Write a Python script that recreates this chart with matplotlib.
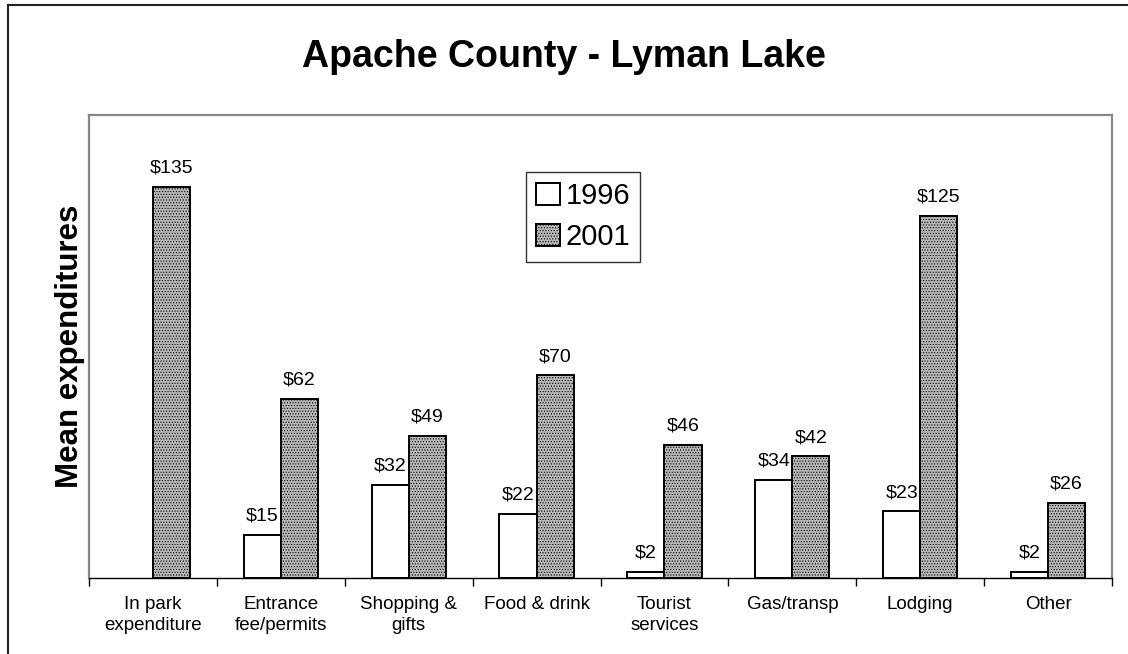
import numpy as np
import matplotlib
matplotlib.use("Agg")
import matplotlib.pyplot as plt
from matplotlib.lines import Line2D

plt.rcParams['font.family'] = ['Liberation Sans', 'DejaVu Sans']
plt.rcParams['hatch.color'] = '#959595'
plt.rcParams['hatch.linewidth'] = 0.5

# data
categories = ['In park\nexpenditure', 'Entrance\nfee/permits', 'Shopping &\ngifts',
              'Food & drink', 'Tourist\nservices', 'Gas/transp', 'Lodging', 'Other']
vals_1996 = [np.nan, 15, 32, 22, 2, 34, 23, 2]
vals_2001 = [135, 62, 49, 70, 46, 42, 125, 26]

fig = plt.figure(figsize=(11.28, 6.54), dpi=100)
ax = fig.add_axes([89 / 1128, 1 - 578 / 654, (1112 - 89) / 1128, (578 - 115) / 654])

x = np.arange(len(categories))
w = 0.29
ax.bar(x - w / 2, vals_1996, w, color='white', edgecolor='black', linewidth=1.4, label='1996')
ax.bar(x + w / 2, vals_2001, w, color='#b8b8b8', edgecolor='black', linewidth=1.4,
       hatch='......', label='2001')

# value labels
for xi, v in zip(x - w / 2, vals_1996):
    if not np.isnan(v):
        ax.annotate(f'${v:.0f}', (xi, v), xytext=(0, 7.5), textcoords='offset points',
                    ha='center', va='bottom', fontsize=14)
for xi, v in zip(x + w / 2, vals_2001):
    ax.annotate(f'${v:.0f}', (xi, v), xytext=(0, 7.5), textcoords='offset points',
                ha='center', va='bottom', fontsize=14)

ax.set_xlim(-0.5, len(categories) - 0.5)
ax.set_ylim(0, 160)
ax.set_yticks([])
ax.set_xticks(x)
ax.set_xticklabels(categories, fontsize=13.5, linespacing=1.3)
ax.tick_params(axis='x', which='major', length=0, pad=13)
ax.set_xticks(np.arange(len(categories) + 1) - 0.5, minor=True)
ax.tick_params(axis='x', which='minor', length=6, width=1, color='black', direction='out')

for s in ['left', 'top', 'right']:
    ax.spines[s].set_color('#888888')
    ax.spines[s].set_linewidth(1.6)
ax.spines['bottom'].set_color('black')
ax.spines['bottom'].set_linewidth(1)

ax.set_ylabel('Mean expenditures', fontsize=22.5, fontweight='bold', labelpad=3)

leg = ax.legend(loc='upper left', bbox_to_anchor=((526 - 89) / 1023, 1 - (172 - 115) / 463),
                fontsize=21, frameon=True, fancybox=False, edgecolor='black',
                handlelength=0.8, handleheight=0.8, handletextpad=0.2,
                borderpad=0.35, labelspacing=0.45, borderaxespad=0)
leg.get_frame().set_linewidth(1)

fig.text(0.5, 1 - 57 / 654, 'Apache County - Lyman Lake', ha='center', va='center',
         fontsize=27, fontweight='bold')

# outer chart frame
fig.add_artist(Line2D([8 / 1128, 8 / 1128], [0, 1 - 5 / 654], transform=fig.transFigure,
                      color='#222222', linewidth=1.5))
fig.add_artist(Line2D([8 / 1128, 1], [1 - 5 / 654, 1 - 5 / 654], transform=fig.transFigure,
                      color='#222222', linewidth=1.5))

fig.savefig('out.png', dpi=100)
